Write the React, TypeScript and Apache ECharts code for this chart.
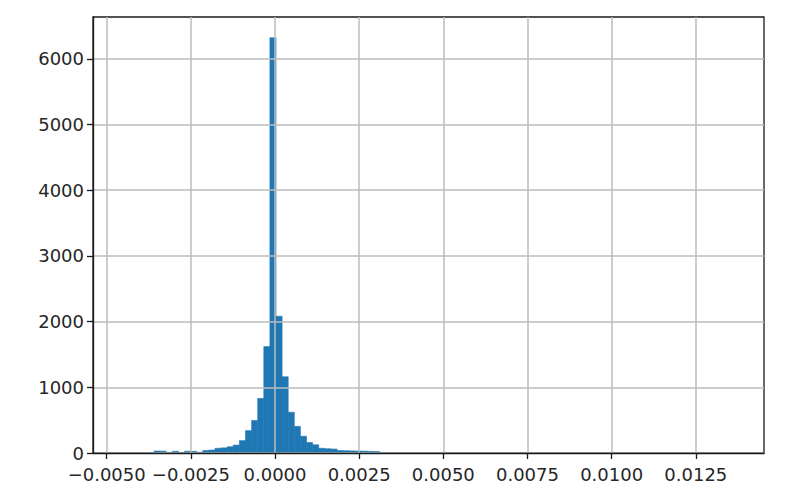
import React, { useEffect, useRef } from "react";
import * as echarts from "echarts";

// Histogram: 100 equal bins between dataMin and dataMax
const dataMin = -0.0045;
const dataMax = 0.01362;
const binCounts: number[] = [
  1, 0, 0, 1, 3, 30, 28, 5, 26, 6,
  27, 25, 10, 38, 45, 72, 78, 95, 120, 188,
  340, 495, 830, 1620, 6320, 2080, 1160, 620, 405, 255,
  160, 125, 72, 65, 60, 38, 35, 32, 30, 28,
  25, 22, 3, 1, 0, 0, 1, 0, 0, 0,
  0, 0, 0, 0, 0, 0, 0, 0, 0, 0,
  0, 0, 0, 0, 0, 0, 0, 0, 0, 0,
  0, 0, 0, 0, 0, 0, 0, 0, 0, 0,
  0, 0, 0, 0, 0, 0, 0, 0, 0, 0,
  0, 0, 0, 0, 0, 0, 0, 0, 0, 1,
];
const xTicks: number[] = [-0.005, -0.0025, 0, 0.0025, 0.005, 0.0075, 0.01, 0.0125];
const yTicks: number[] = [0, 1000, 2000, 3000, 4000, 5000, 6000];

const FONT = "DejaVu Sans";
const TEXT = "#262626";

export default function App() {
  const ref = useRef<HTMLDivElement>(null);
  useEffect(() => {
    if (!ref.current) return;
    const chart = echarts.init(ref.current, undefined, { renderer: "svg" });
    const nBins = binCounts.length;
    const w = (dataMax - dataMin) / nBins;
    const data = binCounts.map((c, i) => [dataMin + i * w, dataMin + (i + 1) * w, c]);
    const span = dataMax - dataMin;
    const xMin = dataMin - 0.05 * span;
    const xMax = dataMax + 0.05 * span;
    const yMax = Math.max(...binCounts) * 1.05;
    const fmtX = (v: number) => {
      const s = (Math.abs(v) < 1e-12 ? 0 : v).toFixed(4);
      return s.replace("-", "\u2212");
    };
    chart.setOption({
      animation: false,
      backgroundColor: "#ffffff",
      grid: {
        left: 93,
        right: 36,
        top: 17,
        bottom: 49,
        show: true,
        borderColor: "#1a1a1a",
        borderWidth: 1.3,
        backgroundColor: "transparent",
      },
      xAxis: {
        type: "value",
        min: xMin,
        max: xMax,
        z: 5,
        axisLine: { show: true, onZero: false, lineStyle: { color: "#1a1a1a", width: 1.3 } },
        axisTick: {
          show: true,
          length: 6,
          customValues: xTicks,
          lineStyle: { color: "#1a1a1a", width: 1.3 },
        },
        axisLabel: {
          customValues: xTicks,
          formatter: fmtX,
          fontFamily: FONT,
          fontSize: 18,
          color: TEXT,
          margin: 12,
        },
        splitLine: { show: true, lineStyle: { color: "#bdbdbd", width: 1.5 } },
      },
      yAxis: {
        type: "value",
        min: 0,
        max: yMax,
        z: 5,
        axisLine: { show: true, onZero: false, lineStyle: { color: "#1a1a1a", width: 1.3 } },
        axisTick: {
          show: true,
          length: 6,
          customValues: yTicks,
          lineStyle: { color: "#1a1a1a", width: 1.3 },
        },
        axisLabel: {
          customValues: yTicks,
          formatter: (v: number) => String(Math.round(v)),
          fontFamily: FONT,
          fontSize: 18,
          color: TEXT,
          margin: 9,
        },
        splitLine: { show: true, lineStyle: { color: "#bdbdbd", width: 1.5 } },
      },
      series: [
        {
          type: "custom",
          z: 2,
          encode: { x: [0, 1], y: 2 },
          data,
          renderItem: (params: any, api: any) => {
            const x0 = api.value(0);
            const x1 = api.value(1);
            const y = api.value(2);
            if (!y) return null;
            const p0 = api.coord([x0, y]);
            const p1 = api.coord([x1, 0]);
            return {
              type: "rect",
              shape: { x: p0[0], y: p0[1], width: p1[0] - p0[0], height: p1[1] - p0[1] },
              style: { fill: "#1f77b4", stroke: "#1f77b4", lineWidth: 0.6 },
            };
          },
        },
      ],
    });
    return () => chart.dispose();
  }, []);
  return (
    <div
      ref={ref}
      style={{ position: "fixed", left: 0, top: 0, width: 800, height: 502, background: "#fff" }}
    />
  );
}
